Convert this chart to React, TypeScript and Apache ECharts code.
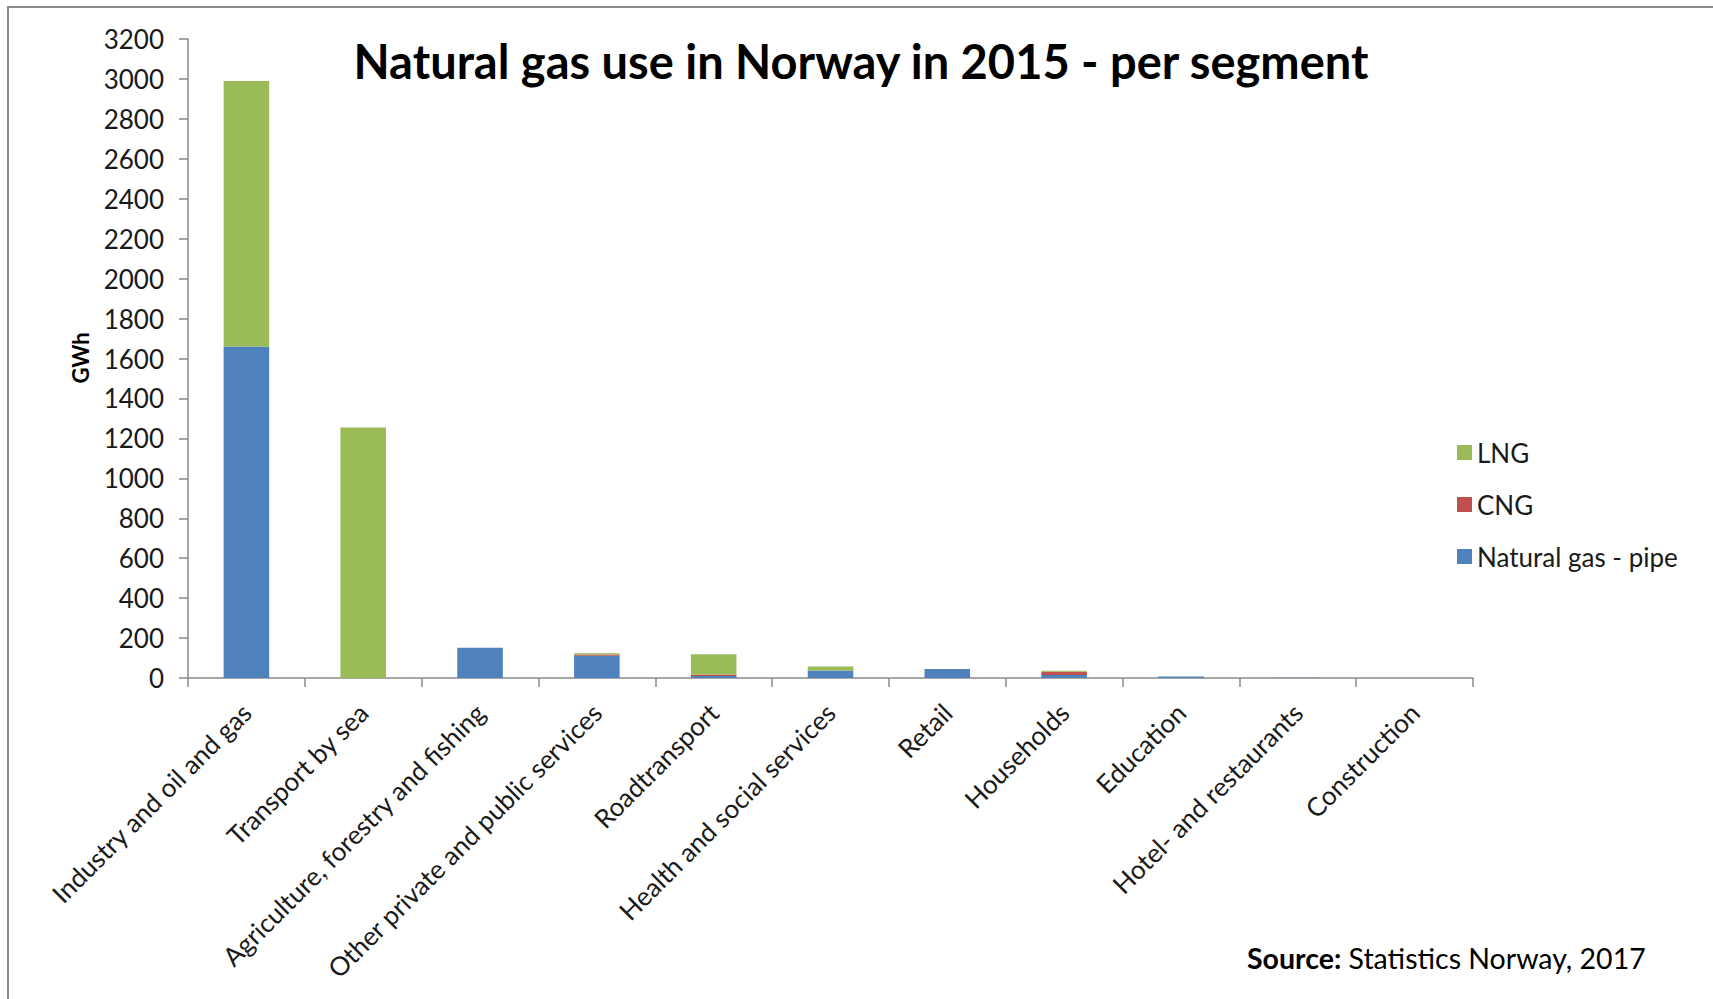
import React, { useEffect, useRef } from "react";
import * as echarts from "echarts";

const categories = [
  "Industry and oil and gas",
  "Transport by sea",
  "Agriculture, forestry and fishing",
  "Other private and public services",
  "Roadtransport",
  "Health and social services",
  "Retail",
  "Households",
  "Education",
  "Hotel- and restaurants",
  "Construction",
];
const pipeValues = [1660, 0, 152, 112, 10, 37, 45, 15, 8, 1, 0];
const cngValues = [0, 0, 0, 6, 8, 0, 0, 16, 0, 0, 0];
const lngValues = [1330, 1255, 0, 6, 101, 20, 0, 5, 0, 0, 0];
const yTicks = { min: 0, max: 3200, interval: 200 };

const FONT = "Lato, 'Open Sans', sans-serif";

export default function App() {
  const ref = useRef<HTMLDivElement>(null);
  useEffect(() => {
    if (!ref.current) return;
    const chart = echarts.init(ref.current, undefined, { renderer: "svg" });
    chart.setOption({
      animation: false,
      backgroundColor: "#ffffff",
      textStyle: { fontFamily: FONT },
      grid: { left: 188, right: 240, top: 39, bottom: 321, containLabel: false },
      legend: {
        orient: "vertical",
        left: 1452,
        top: 434,
        itemWidth: 15,
        itemHeight: 15,
        itemGap: 25,
        icon: "rect",
        data: ["LNG", "CNG", "Natural gas - pipe"],
        textStyle: { fontFamily: FONT, fontSize: 26, color: "#1a1a1a", lineHeight: 27 },
      },
      xAxis: {
        type: "category",
        data: categories,
        axisLine: { lineStyle: { color: "#8a8a8a", width: 1.5 } },
        axisTick: { show: true, length: 9, lineStyle: { color: "#8a8a8a", width: 1.5 } },
        axisLabel: {
          rotate: 45,
          interval: 0,
          margin: 30,
          fontFamily: FONT,
          fontSize: 26,
          color: "#1a1a1a",
        },
      },
      yAxis: {
        type: "value",
        min: yTicks.min,
        max: yTicks.max,
        interval: yTicks.interval,
        splitLine: { show: false },
        axisLine: { show: true, lineStyle: { color: "#8a8a8a", width: 1.5 } },
        axisTick: { show: true, length: 9, lineStyle: { color: "#8a8a8a", width: 1.5 } },
        axisLabel: {
          margin: 24,
          fontFamily: FONT,
          fontSize: 26,
          color: "#1a1a1a",
          formatter: (v: number) => String(v),
        },
      },
      series: [
        {
          name: "Natural gas - pipe",
          type: "bar",
          stack: "gas",
          data: pipeValues,
          barWidth: "39%",
          itemStyle: { color: "#4F81BD" },
        },
        {
          name: "CNG",
          type: "bar",
          stack: "gas",
          data: cngValues,
          barWidth: "39%",
          itemStyle: { color: "#C0504D" },
        },
        {
          name: "LNG",
          type: "bar",
          stack: "gas",
          data: lngValues,
          barWidth: "39%",
          itemStyle: { color: "#9BBB59" },
        },
      ],
      graphic: [
        {
          type: "rect",
          shape: { x: 8, y: 7, width: 1800, height: 1100 },
          style: { fill: "none", stroke: "#8a8a8a", lineWidth: 2 },
          silent: true,
          z: -1,
        },
        {
          type: "text",
          x: 861,
          y: 61,
          style: {
            text: "Natural gas use in Norway in 2015 - per segment",
            fontFamily: FONT,
            fontWeight: "bold",
            fontSize: 47,
            fill: "#000000",
            textAlign: "center",
            textVerticalAlign: "middle",
          },
        },
        {
          type: "text",
          x: 80,
          y: 358,
          rotation: Math.PI / 2,
          style: {
            text: "GWh",
            fontFamily: FONT,
            fontWeight: "bold",
            fontSize: 22,
            fill: "#000000",
            textAlign: "center",
            textVerticalAlign: "middle",
          },
        },
        {
          type: "text",
          x: 1247,
          y: 958,
          style: {
            text: "{b|Source:} Statistics Norway, 2017",
            fontFamily: FONT,
            fontSize: 28.5,
            fill: "#000000",
            textAlign: "left",
            textVerticalAlign: "middle",
            rich: {
              b: { fontFamily: FONT, fontSize: 28.5, fontWeight: "bold", fill: "#000000" },
            },
          },
        },
      ],
    });
    return () => chart.dispose();
  }, []);
  return (
    <div
      ref={ref}
      style={{ position: "fixed", left: 0, top: 0, width: 1713, height: 999, background: "#fff" }}
    />
  );
}
